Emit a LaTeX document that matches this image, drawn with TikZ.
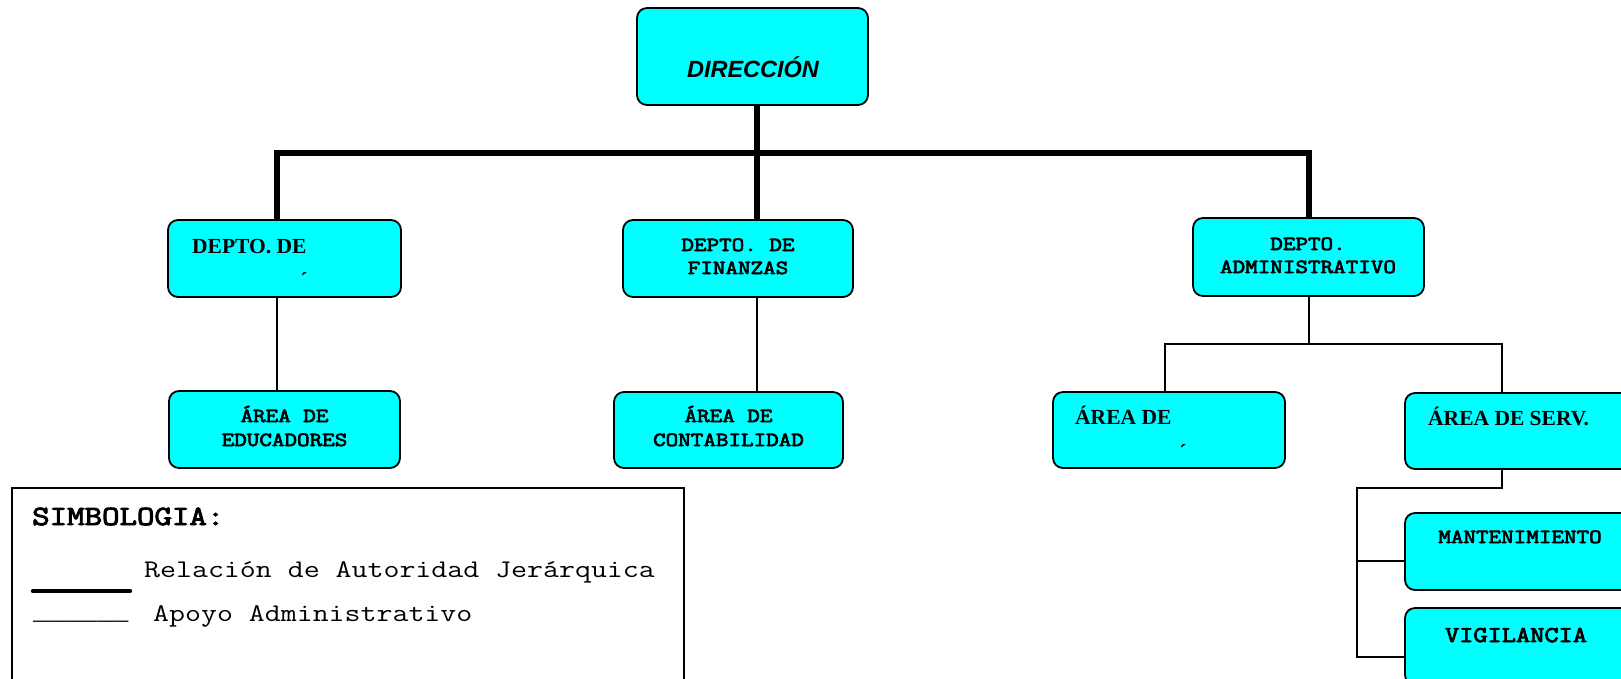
\documentclass[tikz,border=0pt]{standalone}
\usepackage{fontspec}
\newfontfamily\arialf{Liberation Sans}
\newfontfamily\timesf{Liberation Serif}
\newfontfamily\libmono{Liberation Mono}
\newfontfamily\cmono[FakeStretch=1.22]{Latin Modern Mono}
\newfontfamily\cmonob[FakeStretch=1.22,FakeBold=3.5]{Latin Modern Mono}
\definecolor{aquab}{RGB}{0,255,255}
\begin{document}
\begin{tikzpicture}[x=1pt,y=-1pt,
  box/.style={draw=black, line width=1.8pt, fill=aquab, rounded corners=10pt, inner sep=0pt},
  auth/.style={line width=6pt},
  supp/.style={line width=1.6pt},
  tc/.style={inner sep=0pt, anchor=base},
  tw/.style={inner sep=0pt, anchor=base west},
  cour/.style={font=\cmonob\fontsize{20}{24}\selectfont},
  tms/.style={font=\timesf\bfseries\fontsize{21.5}{24}\selectfont}]
\useasboundingbox (0,0) rectangle (1621,678);
\clip (0,0) rectangle (1621,678);
\fill[white] (0,0) rectangle (1621,678);
% boxes
\node[box, minimum width=231pt, minimum height=97pt] (dir) at (752.5,56.5) {};
\node[box, minimum width=233pt, minimum height=77pt] (d1) at (284.5,258.5) {};
\node[box, minimum width=230pt, minimum height=77pt] (d2) at (738,258.5) {};
\node[box, minimum width=231pt, minimum height=78pt] (d3) at (1308.5,257) {};
\node[box, minimum width=231pt, minimum height=77pt] (a1) at (284.5,429.5) {};
\node[box, minimum width=229pt, minimum height=76pt] (a2) at (728.5,430) {};
\node[box, minimum width=232pt, minimum height=76pt] (a3) at (1169,430) {};
\node[box, minimum width=230pt, minimum height=76pt] (a4) at (1520,431) {};
\node[box, minimum width=230pt, minimum height=77pt] (mant) at (1520,551.5) {};
\node[box, minimum width=230pt, minimum height=77pt] (vig) at (1520,646.5) {};
% connector coordinates
\coordinate (xA) at (277,0);
\coordinate (xB) at (757,0);
\coordinate (xC) at (1309,0);
\coordinate (xD) at (1165,0);
\coordinate (xE) at (1502,0);
\coordinate (xF) at (1357,0);
\coordinate (bus) at (0,153);
\coordinate (bus2) at (0,344);
\coordinate (bus3) at (0,488);
\coordinate (yM) at (0,561);
\coordinate (yV) at (0,657);
% authority lines
\draw[auth] (dir.south -| xB) -- (d2.north -| xB);
\draw[auth] (d1.north -| xA) |- (bus -| xC) -- (d3.north -| xC);
% support lines
\draw[supp] (d1.south -| xA) -- (a1.north -| xA);
\draw[supp] (d2.south -| xB) -- (a2.north -| xB);
\draw[supp] (d3.south -| xC) -- (bus2 -| xC);
\draw[supp] (a3.north -| xD) |- (bus2 -| xE) -- (a4.north -| xE);
\draw[supp] (a4.south -| xE) |- (bus3 -| xF) |- (yV -| vig.west);
\draw[supp] (yM -| xF) -- (yM -| mant.west);
% texts
\node[tc, font=\arialf\bfseries\itshape\fontsize{23.5}{26}\selectfont] (tdir) at (753,77) {DIRECCIÓN};
\node[tw, tms] (td1) at (192,253) {DEPTO. DE};
\node[tc, tms] (td1b) at (304,287) {´};
\node[tc, cour] (td2a) at (738,251) {DEPTO. DE};
\node[tc, cour] (td2b) at (738,274) {FINANZAS};
\node[tc, cour] (td3a) at (1308,250) {DEPTO.};
\node[tc, cour] (td3b) at (1308,273) {ADMINISTRATIVO};
\node[tc, cour] (ta1a) at (284.5,422) {ÁREA DE};
\node[tc, cour] (ta1b) at (284.5,446) {EDUCADORES};
\node[tc, cour] (ta2a) at (728.5,422) {ÁREA DE};
\node[tc, cour] (ta2b) at (728.5,446) {CONTABILIDAD};
\node[tw, tms] (ta3) at (1075,424) {ÁREA DE};
\node[tc, tms] (ta3b) at (1183,459) {´};
\node[tw, tms] (ta4) at (1428,425) {ÁREA DE SERV.};
\node[tc, font=\cmonob\fontsize{20}{24}\selectfont] (tmant) at (1520,543) {MANTENIMIENTO};
\node[tc, font=\cmonob\fontsize{22.6}{26}\selectfont] (tvig) at (1516,642) {VIGILANCIA};
% legend
\node[draw=black, line width=1.8pt, fill=none, minimum width=672pt, minimum height=220pt, inner sep=0pt] (leg) at (348,598) {};
\node[tw, font=\cmonob\fontsize{27.8}{30}\selectfont] (lt) at (32,525) {SIMBOLOGIA:};
\node[tw, font=\cmono\fontsize{25.4}{30}\selectfont] (l1) at (144,577) {Relación de Autoridad Jerárquica};
\coordinate (la) at (33,591);
\coordinate (lb) at (130,591);
\draw[line width=4.5pt, line cap=round] (la) -- (lb);
\node[tw, font=\libmono\fontsize{26.5}{30}\selectfont] (l2u) at (33,619) {\_\_\_\_\_\_};
\node[tw, font=\cmono\fontsize{25.4}{30}\selectfont] (l2) at (153,621) {Apoyo Administrativo};
\end{tikzpicture}
\end{document}
